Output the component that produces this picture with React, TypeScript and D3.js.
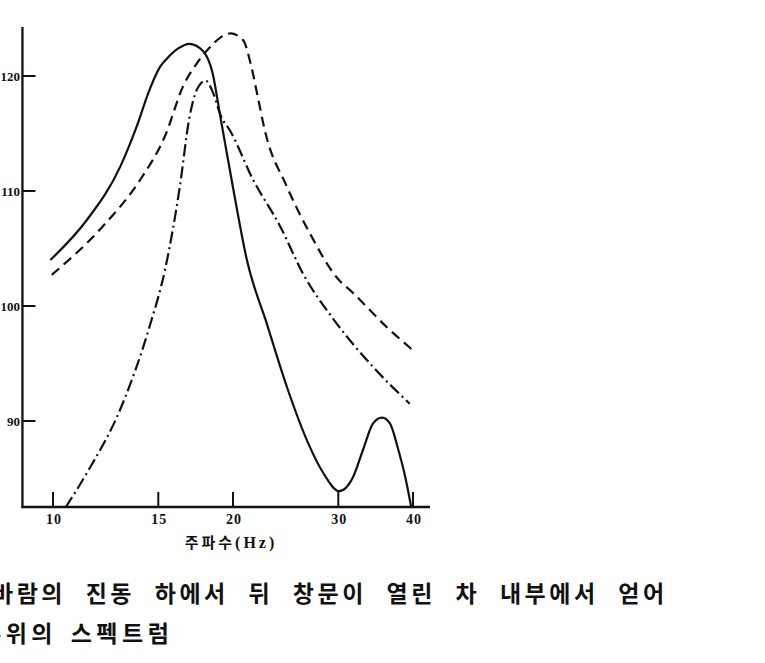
import React from "react";
import * as d3 from "d3";

// Frequency (Hz) and level (dB) readings for each curve
const solidFreq = [9.9, 11.4, 12.95, 13.8, 14.5, 15.1, 15.5, 16.2, 16.9, 17.8, 18.5, 19.0, 20.0, 21.1, 22.8, 24.6, 26.7, 28.3, 30.1, 30.9, 31.8, 33.0, 34.3, 35.5, 36.6, 37.8, 38.8, 39.7];
const solidVals = [104.0, 107.5, 112.1, 115.6, 118.8, 120.8, 121.5, 122.4, 122.8, 122.2, 120.2, 116.8, 110.3, 104.0, 98.4, 93.0, 88.1, 85.5, 83.9, 84.2, 85.2, 87.5, 89.8, 90.3, 89.8, 87.5, 85.2, 82.6];

const dashFreq = [9.95, 12.1, 14.0, 15.4, 16.5, 17.4, 18.3, 19.0, 19.8, 20.8, 21.4, 22.0, 22.6, 24.6, 26.9, 29.8, 31.8, 36.1, 40.3];
const dashVals = [102.7, 106.9, 111.0, 114.8, 119.1, 121.1, 122.5, 123.3, 123.7, 123.1, 121.1, 118.2, 115.3, 110.4, 106.3, 102.5, 101.1, 98.2, 96.0];

const dotFreq = [10.5, 11.4, 13.0, 14.5, 15.4, 16.3, 16.9, 17.4, 18.0, 18.5, 19.1, 19.8, 21.6, 24.0, 26.2, 29.5, 34.3, 39.5];
const dotVals = [82.5, 85.5, 91.2, 98.2, 103.2, 110.4, 116.3, 118.8, 119.6, 118.6, 116.5, 115.2, 111.0, 106.9, 102.8, 98.8, 94.7, 91.5];

const xTicks = [10, 15, 20, 30, 40];
const yTicks = [90, 100, 110, 120];
const xTitleKr = "주파수";
const xTitleUnit = "(Hz)";
const captionLine1 = "바람의 진동 하에서 뒤 창문이 열린 차 내부에서 얻어";
const captionLine2 = "수위의 스펙트럼";

const xDomainExtent = [8.89, 42.7];
const yDomainExtent = [82.52, 124.26];

export default function App() {
  const x = d3.scaleLog().domain([10, 40]).range([53, 413]);
  const y = d3.scaleLinear().domain([90, 120]).range([421, 76]);

  const line = d3
    .line<[number, number]>()
    .x((d) => x(d[0]))
    .y((d) => y(d[1]))
    .curve(d3.curveMonotoneX);

  const mk = (f: number[], v: number[]) => line(f.map((fi, i) => [fi, v[i]] as [number, number])) || "";

  const x0 = x(xDomainExtent[0]);
  const x1 = x(xDomainExtent[1]);
  const yb = y(yDomainExtent[0]);
  const yt = y(yDomainExtent[1]);

  const ink = "#111";
  const serif = "'Liberation Serif', 'Times New Roman', serif";
  const kr = "'Noto Sans CJK KR', sans-serif";

  return (
    <svg
      width={765}
      height={663}
      style={{ position: "absolute", left: 0, top: 0, background: "#fff" }}
    >
      {/* axes */}
      <line x1={x0} x2={x0} y1={yt} y2={yb + 1} stroke={ink} strokeWidth={2.3} />
      <line x1={x0 - 1} x2={x1} y1={yb} y2={yb} stroke={ink} strokeWidth={2.3} />
      {xTicks.map((t) => (
        <g key={"xt" + t}>
          <line x1={x(t)} x2={x(t)} y1={yb} y2={yb - 15} stroke={ink} strokeWidth={2} />
          <text
            x={x(t) + 1}
            y={yb + 17}
            textAnchor="middle"
            fontFamily={serif}
            fontWeight="bold"
            fontSize={14}
            letterSpacing={1}
            fill={ink}
          >
            {t}
          </text>
        </g>
      ))}
      {yTicks.map((t) => (
        <g key={"yt" + t}>
          <line x1={x0} x2={x0 + 13} y1={y(t)} y2={y(t)} stroke={ink} strokeWidth={2} />
          <text
            x={x0 - 2.5}
            y={y(t) + 5}
            textAnchor="end"
            fontFamily={serif}
            fontWeight="bold"
            fontSize={13}
            fill={ink}
          >
            {t}
          </text>
        </g>
      ))}
      <text
        x={231}
        y={548}
        textAnchor="middle"
        fontFamily={kr}
        fontWeight="bold"
        fontSize={15}
        letterSpacing={3}
        fill={ink}
      >
        {xTitleKr}
        <tspan fontFamily={serif} fontSize={16}>
          {xTitleUnit}
        </tspan>
      </text>

      {/* curves */}
      <path d={mk(solidFreq, solidVals)} fill="none" stroke={ink} strokeWidth={2.2} />
      <path
        d={mk(dashFreq, dashVals)}
        fill="none"
        stroke={ink}
        strokeWidth={2.2}
        strokeDasharray="10,6"
      />
      <path
        d={mk(dotFreq, dotVals)}
        fill="none"
        stroke={ink}
        strokeWidth={2.2}
        strokeDasharray="12,4,2,4"
      />

      {/* caption */}
      <text
        x={-8}
        y={602}
        fontFamily={kr}
        fontWeight="bold"
        fontSize={23}
        letterSpacing={3.5}
        wordSpacing={11}
        fill={ink}
      >
        {captionLine1}
      </text>
      <text
        x={-20}
        y={642}
        fontFamily={kr}
        fontWeight="bold"
        fontSize={23}
        letterSpacing={4.5}
        wordSpacing={4}
        fill={ink}
      >
        {captionLine2}
      </text>
    </svg>
  );
}
